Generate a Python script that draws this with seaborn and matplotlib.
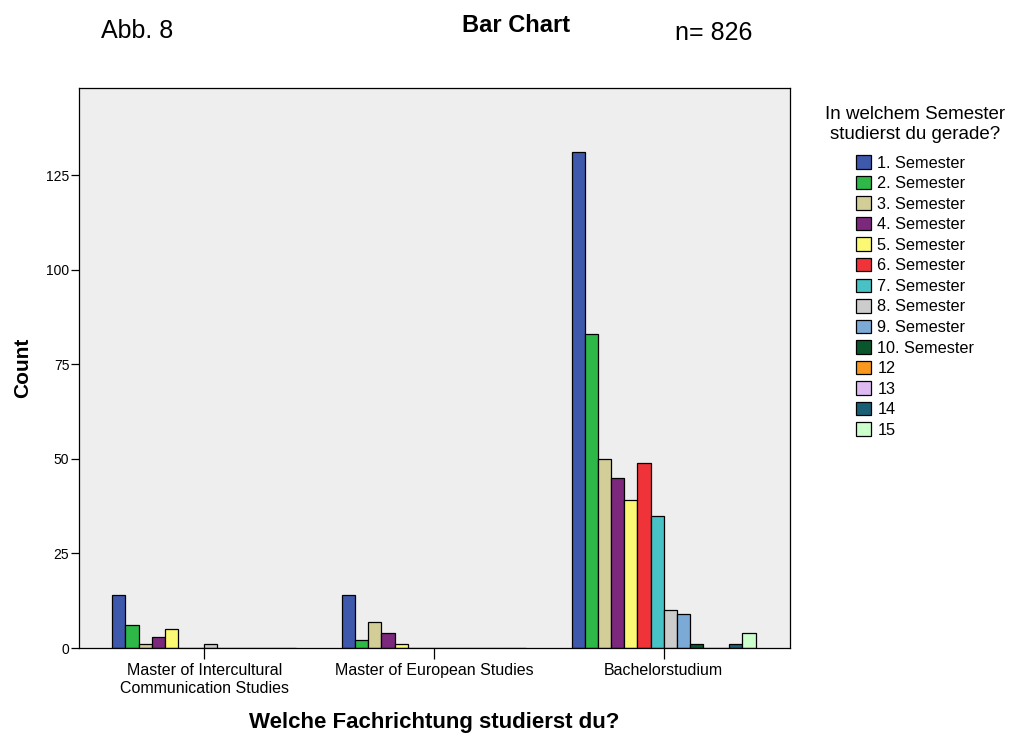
import numpy as np
import pandas as pd
import matplotlib
matplotlib.use("Agg")
import matplotlib.pyplot as plt
import seaborn as sns

# ---- data ----
fields = ["Master of Intercultural\nCommunication Studies",
          "Master of European Studies",
          "Bachelorstudium"]
semesters = ["1. Semester", "2. Semester", "3. Semester", "4. Semester",
             "5. Semester", "6. Semester", "7. Semester", "8. Semester",
             "9. Semester", "10. Semester", "12", "13", "14", "15"]
counts_mics = [14, 6, 1, 3, 5, 0, 0, 1, 0, 0, 0, 0, 0, 0]
counts_mes = [14, 2, 7, 4, 1, 0, 0, 0, 0, 0, 0, 0, 0, 0]
counts_ba = [131, 83, 50, 45, 39, 49, 35, 10, 9, 1, 0, 0, 1, 4]
colors = ["#3E58AC", "#2EB848", "#D3CE97", "#7C287D", "#FBF873", "#EF3338",
          "#48C2C5", "#CCCCCC", "#7AAAD5", "#0A562C", "#F8981D", "#DDBAF1",
          "#1A5F76", "#CCFFCC"]
y_ticks = [0, 25, 50, 75, 100, 125]

rows = []
for f, vals in zip(fields, [counts_mics, counts_mes, counts_ba]):
    for s, v in zip(semesters, vals):
        rows.append({"Fach": f, "Semester": s, "Count": v})
df = pd.DataFrame(rows)

sns.set_style("white")
plt.rcParams["font.family"] = ["Liberation Sans", "DejaVu Sans"]
plt.rcParams["text.color"] = "black"
plt.rcParams["axes.labelcolor"] = "black"
plt.rcParams["xtick.color"] = "black"
plt.rcParams["ytick.color"] = "black"

W, H = 1014, 733
fig = plt.figure(figsize=(W / 100, H / 100), dpi=100)
ax = fig.add_axes([79 / W, (H - 648) / H, (790 - 79) / W, (648 - 88) / H])
ax.set_facecolor("#EEEEEE")

sns.barplot(data=df, x="Fach", y="Count", hue="Semester",
            order=fields, hue_order=semesters, palette=colors,
            saturation=1, width=0.8, errorbar=None,
            edgecolor="black", linewidth=0.9, ax=ax)

ax.set_xlim(-0.545, 2.55)
ax.set_ylim(0, 148)
ax.set_yticks(y_ticks)
ax.set_yticklabels([str(t) for t in y_ticks], fontsize=10)
ax.tick_params(axis="y", direction="out", length=6, width=0.9, pad=1,
               left=True, colors="black")
ax.tick_params(axis="x", direction="out", length=8, width=0.9, pad=3,
               bottom=True, labelsize=11.5, colors="black")
for lab in ax.get_xticklabels():
    lab.set_multialignment("center")
for sp in ax.spines.values():
    sp.set_visible(True)
    sp.set_color("black")
    sp.set_linewidth(0.9)
    sp.set_zorder(5)

ax.set_xlabel("Welche Fachrichtung studierst du?", fontsize=16,
              fontweight="bold", labelpad=12, color="black")
ax.set_ylabel("Count", fontsize=15, fontweight="bold", labelpad=10,
              color="black")

# legend
handles, labels = ax.get_legend_handles_labels()
if ax.legend_:
    ax.legend_.remove()
leg = fig.legend(handles, labels, title="In welchem Semester\nstudierst du gerade?",
                 loc="upper center", bbox_to_anchor=(915 / W, 1 - 98 / H),
                 frameon=False, fontsize=11.7, title_fontsize=13.5,
                 handlelength=0.95, handleheight=0.9, handletextpad=0.4,
                 labelspacing=0.32, borderpad=0)
leg.get_title().set_multialignment("center")
leg.get_title().set_color("black")
for t in leg.get_texts():
    t.set_color("black")
leg._legend_box.sep = 9

fig.text(137 / W, 1 - 31 / H, "Abb. 8", fontsize=18, ha="center", va="center")
fig.text(516 / W, 1 - 25 / H, "Bar Chart", fontsize=17, fontweight="bold",
         ha="center", va="center")
fig.text(714 / W, 1 - 33 / H, "n= 826", fontsize=18, ha="center", va="center")

fig.savefig("out.png", dpi=100, facecolor="white")
